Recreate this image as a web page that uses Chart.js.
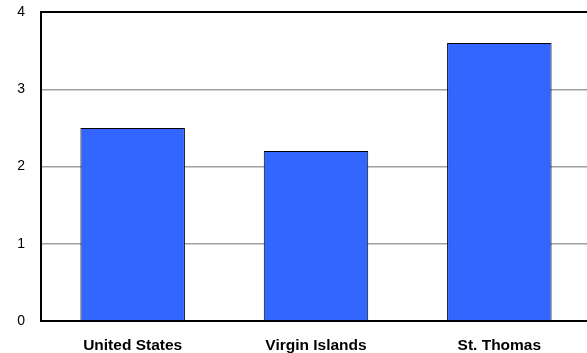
<!DOCTYPE html>
<html>
<head>
<meta charset="utf-8">
<script src="https://cdn.jsdelivr.net/npm/chart.js@4"></script>
<style>
  html, body { margin: 0; padding: 0; background: #fff; overflow: hidden; }
  #wrap { width: 591px; height: 353px; }
</style>
</head>
<body>
<div id="wrap"><canvas id="chart"></canvas></div>
<script>
const categories = ['United States', 'Virgin Islands', 'St. Thomas'];
const values = [2.5, 2.2, 3.6];
const yTicks = [0, 1, 2, 3, 4];

// top border of the plot area
const topBorder = {
  id: 'topBorder',
  afterDraw(chart) {
    const { ctx, chartArea } = chart;
    ctx.save();
    ctx.strokeStyle = '#000';
    ctx.lineWidth = 2;
    ctx.beginPath();
    ctx.moveTo(chartArea.left, chartArea.top);
    ctx.lineTo(chartArea.right, chartArea.top);
    ctx.stroke();
    ctx.restore();
  }
};

new Chart(document.getElementById('chart'), {
  type: 'bar',
  data: {
    labels: categories,
    datasets: [{
      data: values,
      backgroundColor: '#3366ff',
      borderColor: '#000',
      borderWidth: 1,
      categoryPercentage: 1,
      barPercentage: 0.57
    }]
  },
  options: {
    responsive: true,
    maintainAspectRatio: false,
    animation: false,
    layout: { padding: { top: 12, right: 0, left: 0, bottom: 0 } },
    plugins: { legend: { display: false }, tooltip: { enabled: false } },
    scales: {
      x: {
        grid: { display: false, drawTicks: false },
        border: { color: '#000', width: 2 },
        ticks: {
          color: '#000',
          padding: 20.5,
          font: { family: 'Liberation Sans, Arial, sans-serif', size: 15.5, weight: 'bold', lineHeight: 0.6 }
        },
        afterFit(scale) { scale.height = 32; scale.paddingLeft = 0; scale.paddingRight = 0; }
      },
      y: {
        min: 0,
        max: 4,
        afterBuildTicks(scale) { scale.ticks = yTicks.map(v => ({ value: v })); },
        grid: { color: '#a0a0a0', lineWidth: 1.5, drawTicks: false },
        border: { color: '#000', width: 2 },
        ticks: {
          color: '#000',
          padding: 16,
          font: { family: 'Liberation Sans, Arial, sans-serif', size: 14 }
        },
        afterFit(scale) { scale.width = 41; scale.paddingTop = 0; scale.paddingBottom = 0; }
      }
    }
  },
  plugins: [topBorder]
});
</script>
</body>
</html>
